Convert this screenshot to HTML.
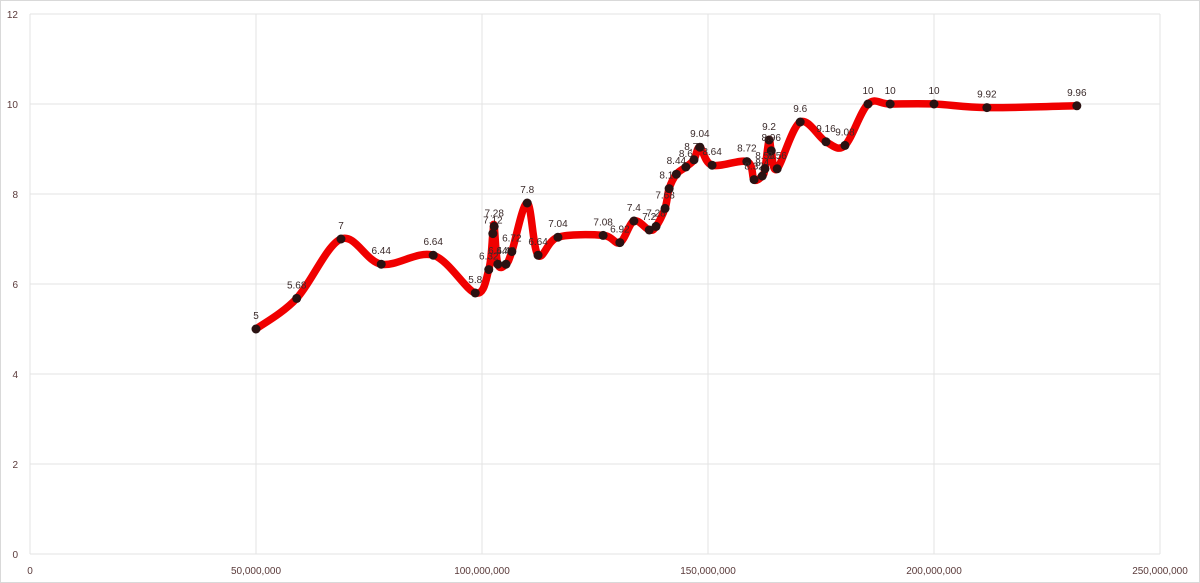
<!DOCTYPE html>
<html><head><meta charset="utf-8"><style>
html,body{margin:0;padding:0;background:#fff;}
svg{display:block;font-family:"Liberation Sans",sans-serif;}
</style></head><body>
<svg id="chart" width="1200" height="583"></svg>
<script>
const xValues=[50,59,68.8,77.7,89.2,98.5,101.5,102.4,102.7,103.5,105.3,106.6,110,112.4,116.8,126.8,130.5,133.6,137,138.5,140.5,141.4,143,145.1,146.9,148.2,150.9,158.6,160.2,162,162.6,163.5,164,165.3,170.4,176.1,180.3,185.4,190.3,200,211.7,231.6];
const yValues=[5,5.68,7,6.44,6.64,5.8,6.32,7.12,7.28,6.44,6.44,6.72,7.8,6.64,7.04,7.08,6.92,7.4,7.2,7.28,7.68,8.12,8.44,8.6,8.76,9.04,8.64,8.72,8.32,8.4,8.56,9.2,8.96,8.56,9.6,9.16,9.08,10,10,10,9.92,9.96];
const xTicks=[0,50,100,150,200,250];
const yTicks=[0,2,4,6,8,10,12];
const NS="http://www.w3.org/2000/svg";
const svg=document.getElementById('chart');
const X=v=>30+v*4.52;
const Y=v=>554-v*45;
function mk(t,a){const e=document.createElementNS(NS,t);for(const k in a)e.setAttribute(k,a[k]);svg.appendChild(e);return e;}
const border=mk('rect',{x:0.5,y:0.5,width:1199,height:582,fill:'none',stroke:'#d9d9d9'});


yTicks.forEach(t=>{
  const l=mk('line',{x1:30,x2:1160,y1:Y(t),y2:Y(t),stroke:'#e3e3e3','stroke-width':1});
  
  
  const tx=mk('text',{x:18,y:Y(t)+4,'font-size':10,fill:'#5a3a3a','text-anchor':'end'});
  tx.textContent=t;
  
  
});
xTicks.forEach(t=>{
  const l=mk('line',{x1:X(t),x2:X(t),y1:Y(12),y2:Y(0),stroke:'#e3e3e3','stroke-width':1});
  
  
  const tx=mk('text',{x:X(t),y:574,'font-size':10,fill:'#5a3a3a','text-anchor':'middle'});
  tx.textContent=(t*1000000).toLocaleString('en-US');
  
  
});
const P=xValues.map((x,i)=>[X(x),Y(yValues[i])]);
let d='M'+P[0][0]+','+P[0][1];
for(let i=0;i<P.length-1;i++){
  const p0=P[Math.max(0,i-1)],p1=P[i],p2=P[i+1],p3=P[Math.min(P.length-1,i+2)];
  const t=1/6;
  d+=' C'+(p1[0]+(p2[0]-p0[0])*t)+','+(p1[1]+(p2[1]-p0[1])*t)+' '+(p2[0]-(p3[0]-p1[0])*t)+','+(p2[1]-(p3[1]-p1[1])*t)+' '+p2[0]+','+p2[1];
}
const line=mk('path',{d:d,fill:'none',stroke:'#f00000','stroke-width':7.5,'stroke-linejoin':'round','stroke-linecap':'round'});


P.forEach((p,i)=>{
  const c=mk('circle',{cx:p[0],cy:p[1],r:4.5,fill:'#2a1212'});
  
  
  const tx=mk('text',{x:p[0],y:p[1]-10,'font-size':10,fill:'#3a2a2a','text-anchor':'middle'});
  tx.textContent=yValues[i];
  
  
});
</script>
</body></html>
